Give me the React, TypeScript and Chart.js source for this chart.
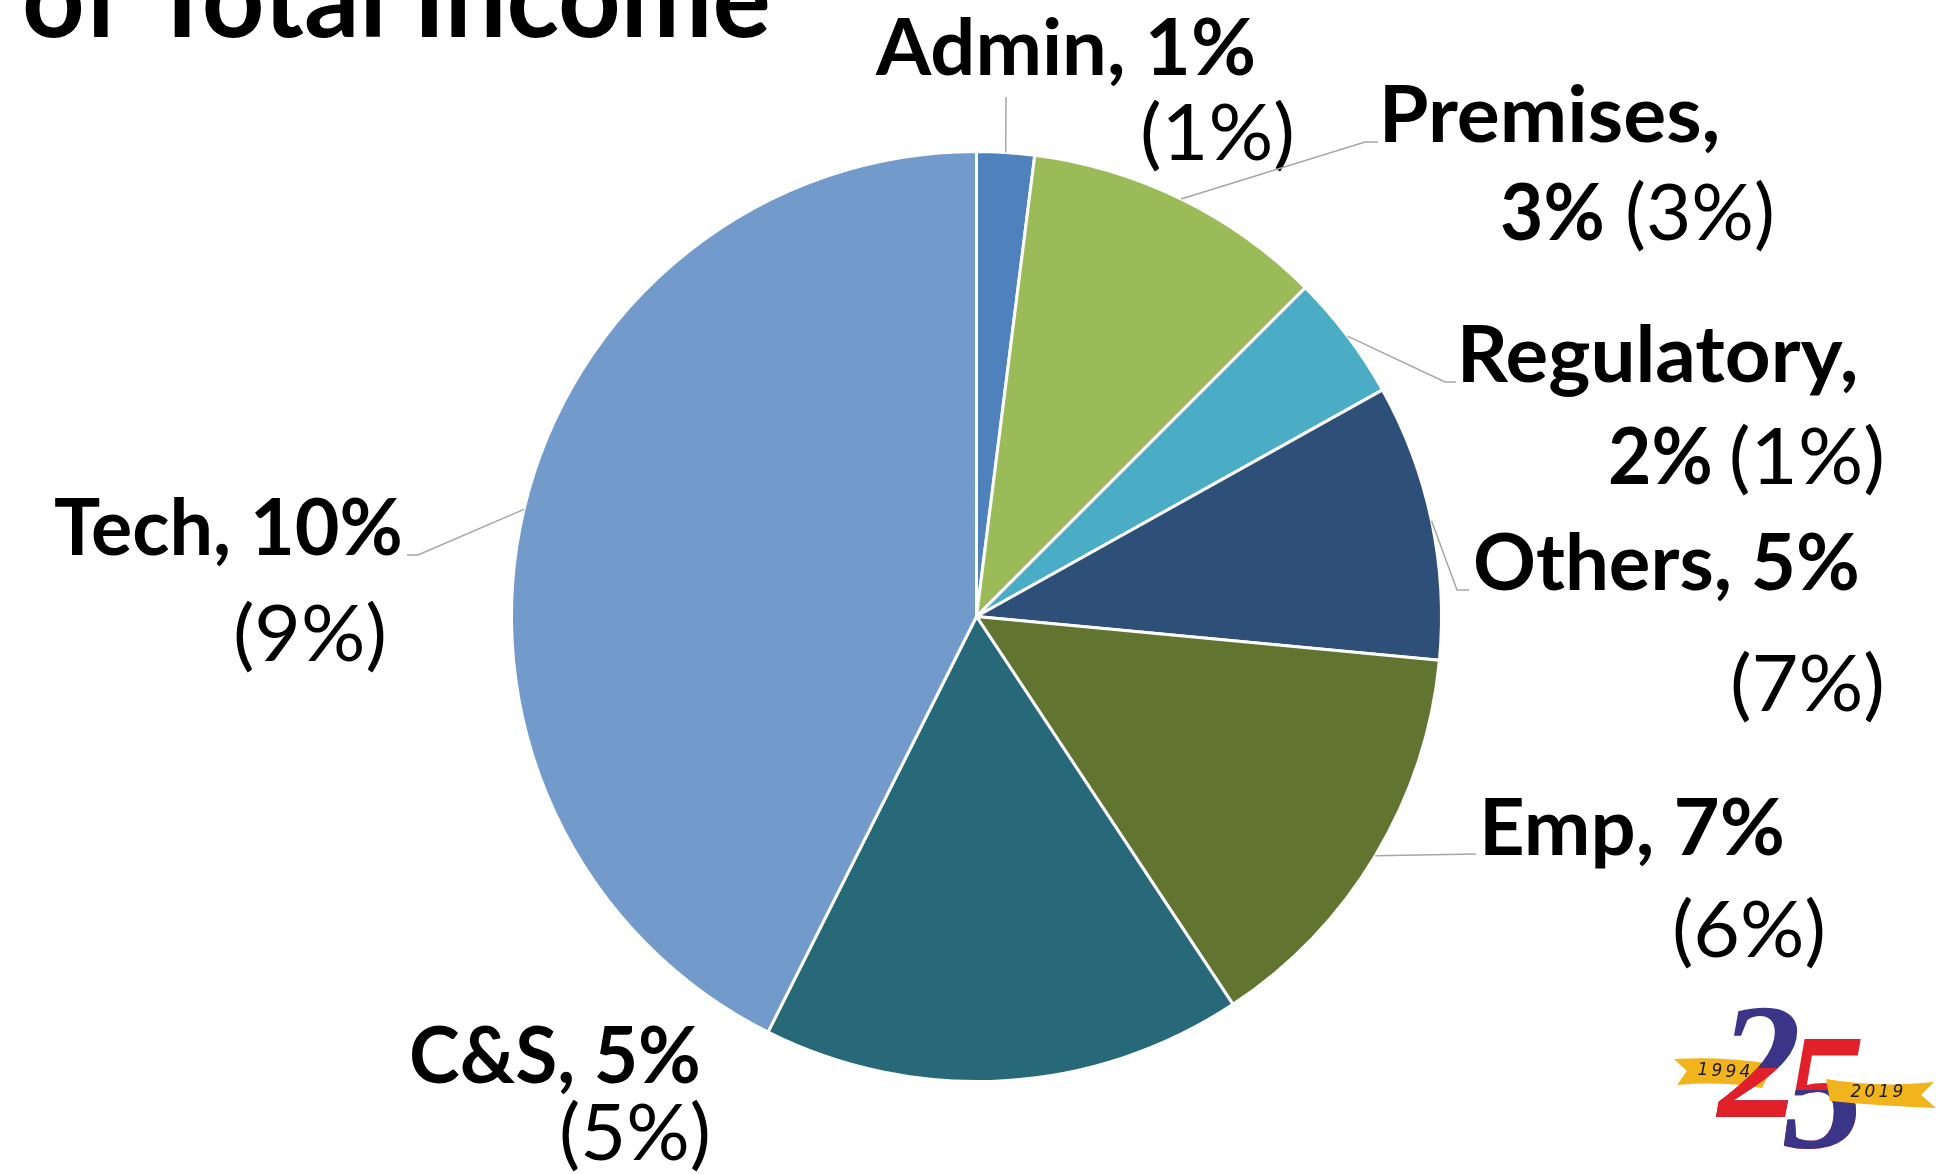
import React, { useEffect, useRef } from 'react';
import { Chart, registerables } from 'chart.js';

Chart.register(...registerables);

const W = 1943;
const H = 1174;

// ---- data ----
const categories = ['Admin', 'Premises', 'Regulatory', 'Others', 'Emp', 'C&S', 'Tech'];
// share of each slice (%)
const sliceShare = [2.0, 10.5, 4.4, 9.6, 14.2, 16.7, 42.6];
// % of total income shown in labels (current year)
const pctOfIncome = [1, 3, 2, 5, 7, 5, 10];
// % of total income shown in brackets (previous year)
const prevPctOfIncome = [1, 3, 1, 7, 6, 5, 9];
const sliceColors = ['#4F81BD', '#9BBB59', '#4BACC6', '#2E4F77', '#617531', '#276979', '#729BCB'];
const titleText = 'of Total Income';

// ---- label layout (positions only) ----
type Box = { x: number; y: number; w: number };
type LabelLayout = {
  split: boolean;
  line1: Box;
  pct?: Box;
  prev: Box;
  leader: number[][];
};
const labelLayout: LabelLayout[] = [
  { split: false, line1: { x: 875, y: 75, w: 378 }, prev: { x: 1143, y: 160, w: 149 }, leader: [[1006, 97]] },
  { split: true, line1: { x: 1385, y: 142, w: 332 }, pct: { x: 1502, y: 240, w: 100 }, prev: { x: 1628, y: 240, w: 144 }, leader: [[1365, 142], [1378, 142]] },
  { split: true, line1: { x: 1463, y: 382, w: 392 }, pct: { x: 1610, y: 484, w: 100 }, prev: { x: 1732, y: 484, w: 150 }, leader: [[1445, 382], [1456, 382]] },
  { split: false, line1: { x: 1475, y: 590, w: 382 }, prev: { x: 1733, y: 711, w: 149 }, leader: [[1457, 590], [1469, 590]] },
  { split: false, line1: { x: 1485, y: 855, w: 297 }, prev: { x: 1675, y: 957, w: 148 }, leader: [[1476, 854]] },
  { split: false, line1: { x: 412, y: 1083, w: 286 }, prev: { x: 562, y: 1160, w: 146 }, leader: [] },
  { split: false, line1: { x: 55, y: 555, w: 345 }, prev: { x: 236, y: 661, w: 148 }, leader: [[418, 555], [407, 555]] },
];

const BOLD = 'bold 78px Lato, "Noto Sans", sans-serif';
const REG = '78px Lato, "Noto Sans", sans-serif';

function fitText(ctx: CanvasRenderingContext2D, text: string, x: number, y: number, w: number, font: string) {
  ctx.font = font;
  const m = ctx.measureText(text);
  const inkW = m.actualBoundingBoxLeft + m.actualBoundingBoxRight;
  const sx = inkW > 0 ? w / inkW : 1;
  ctx.save();
  ctx.translate(x, y);
  ctx.scale(sx, 1);
  ctx.textAlign = 'left';
  ctx.textBaseline = 'alphabetic';
  ctx.fillText(text, m.actualBoundingBoxLeft, 0);
  ctx.restore();
}

function drawLogo(ctx: CanvasRenderingContext2D) {
  const yellow = '#F1B41C';
  const navy = '#3A3586';
  const red = '#E2202A';
  ctx.save();
  // left ribbon
  ctx.fillStyle = yellow;
  ctx.beginPath();
  ctx.moveTo(1674, 1059);
  ctx.quadraticCurveTo(1720, 1056, 1774, 1064);
  ctx.lineTo(1762, 1088);
  ctx.quadraticCurveTo(1720, 1081, 1677, 1085);
  ctx.lineTo(1687, 1071);
  ctx.closePath();
  ctx.fill();

  // digit 2
  const f2 = 'italic bold 166px "Liberation Serif", "DejaVu Serif", serif';
  ctx.font = f2;
  ctx.textBaseline = 'alphabetic';
  ctx.fillStyle = navy;
  ctx.fillText('2', 1718, 1117);
  ctx.save();
  ctx.beginPath();
  ctx.rect(1690, 1068, 140, 80);
  ctx.clip();
  ctx.fillStyle = red;
  ctx.fillText('2', 1718, 1117);
  ctx.restore();

  // digit 5
  ctx.fillStyle = red;
  ctx.fillText('5', 1782, 1147);
  ctx.save();
  ctx.beginPath();
  ctx.rect(1760, 1090, 140, 80);
  ctx.clip();
  ctx.fillStyle = navy;
  ctx.fillText('5', 1782, 1147);
  ctx.restore();

  // right ribbon
  ctx.fillStyle = yellow;
  ctx.beginPath();
  ctx.moveTo(1826, 1079);
  ctx.quadraticCurveTo(1880, 1088, 1934, 1082);
  ctx.lineTo(1921, 1095);
  ctx.lineTo(1936, 1108);
  ctx.quadraticCurveTo(1880, 1106, 1830, 1101);
  ctx.closePath();
  ctx.fill();

  // years
  ctx.fillStyle = '#1a1a1a';
  ctx.font = 'italic 17px "DejaVu Sans", sans-serif';
  ctx.textAlign = 'center';
  ctx.textBaseline = 'middle';
  const y1 = '1994';
  for (let i = 0; i < y1.length; i++) ctx.fillText(y1[i], 1703 + i * 14, 1071 + i * 0.6);
  const y2 = '2019';
  for (let i = 0; i < y2.length; i++) ctx.fillText(y2[i], 1856 + i * 14, 1093 - i * 0.3);
  ctx.restore();
}

const labelPlugin = {
  id: 'customLabels',
  afterDraw(chart: any) {
    const ctx: CanvasRenderingContext2D = chart.ctx;
    const meta = chart.getDatasetMeta(0);
    ctx.save();
    // title (top part cut off as in the original)
    ctx.fillStyle = '#000';
    fitText(ctx, titleText, 25, 37, 743, 'bold 112px Lato, "Noto Sans", sans-serif');

    meta.data.forEach((arc: any, i: number) => {
      const p = arc.getProps(['x', 'y', 'startAngle', 'endAngle', 'outerRadius'], true);
      const mid = (p.startAngle + p.endAngle) / 2;
      const lay = labelLayout[i];
      if (lay.leader.length) {
        ctx.strokeStyle = '#A6A6A6';
        ctx.lineWidth = 1.5;
        ctx.beginPath();
        ctx.moveTo(p.x + Math.cos(mid) * p.outerRadius, p.y + Math.sin(mid) * p.outerRadius);
        lay.leader.forEach((pt) => ctx.lineTo(pt[0], pt[1]));
        ctx.stroke();
      }
      ctx.fillStyle = '#000';
      const cat = categories[i];
      if (lay.split && lay.pct) {
        fitText(ctx, `${cat},`, lay.line1.x, lay.line1.y, lay.line1.w, BOLD);
        fitText(ctx, `${pctOfIncome[i]}%`, lay.pct.x, lay.pct.y, lay.pct.w, BOLD);
      } else {
        fitText(ctx, `${cat}, ${pctOfIncome[i]}%`, lay.line1.x, lay.line1.y, lay.line1.w, BOLD);
      }
      fitText(ctx, `(${prevPctOfIncome[i]}%)`, lay.prev.x, lay.prev.y, lay.prev.w, REG);
    });

    drawLogo(ctx);
    ctx.restore();
  },
};

export default function App() {
  const ref = useRef<HTMLCanvasElement>(null);
  useEffect(() => {
    if (!ref.current) return;
    const chart = new Chart(ref.current, {
      type: 'pie',
      data: {
        labels: categories,
        datasets: [
          {
            data: sliceShare,
            backgroundColor: sliceColors,
            borderColor: '#FFFFFF',
            borderWidth: 3,
            hoverBorderWidth: 3,
            hoverOffset: 0,
          },
        ],
      },
      options: {
        responsive: false,
        animation: false,
        events: [],
        devicePixelRatio: 1,
        layout: { padding: { left: 510, right: 500, top: 150, bottom: 91 } },
        plugins: {
          legend: { display: false },
          tooltip: { enabled: false },
          title: { display: false },
        },
      } as any,
      plugins: [labelPlugin as any],
    });
    let alive = true;
    const fonts: any = (document as any).fonts;
    if (fonts && fonts.load) {
      Promise.all([
        fonts.load('bold 78px Lato'),
        fonts.load('78px Lato'),
        fonts.load('italic bold 166px "Liberation Serif"'),
      ])
        .then(() => {
          if (alive) chart.draw();
        })
        .catch(() => {});
    }
    return () => {
      alive = false;
      chart.destroy();
    };
  }, []);
  return (
    <div style={{ position: 'fixed', left: 0, top: 0, width: W, height: H, background: '#FFFFFF', overflow: 'hidden' }}>
      <canvas ref={ref} width={W} height={H} style={{ display: 'block', width: W, height: H }} />
    </div>
  );
}
